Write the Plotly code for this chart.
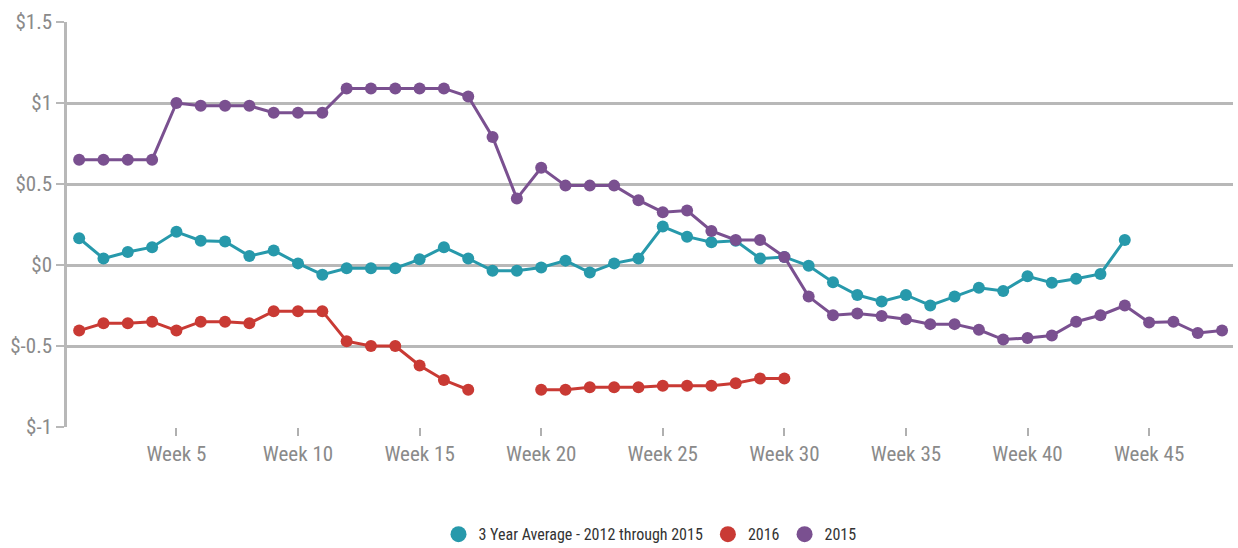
import plotly.graph_objects as go

weeks = list(range(1, 49))

avg_3yr = [0.165, 0.04, 0.08, 0.11, 0.205, 0.15, 0.145, 0.055, 0.09, 0.01,
           -0.06, -0.02, -0.02, -0.02, 0.035, 0.11, 0.04, -0.035, -0.035, -0.015,
           0.027, -0.047, 0.01, 0.04, 0.237, 0.175, 0.14, 0.15, 0.04, 0.05,
           -0.005, -0.107, -0.185, -0.225, -0.185, -0.25, -0.195, -0.14, -0.16, -0.07,
           -0.11, -0.085, -0.055, 0.155]

y2016 = [-0.405, -0.36, -0.36, -0.35, -0.405, -0.35, -0.35, -0.36, -0.285, -0.285,
         -0.285, -0.47, -0.5, -0.5, -0.62, -0.71, -0.77, None, None, -0.77,
         -0.77, -0.755, -0.755, -0.755, -0.745, -0.745, -0.745, -0.73, -0.70, -0.70]

y2015 = [0.65, 0.65, 0.65, 0.65, 1.0, 0.983, 0.983, 0.983, 0.94, 0.94,
         0.94, 1.09, 1.09, 1.09, 1.09, 1.09, 1.04, 0.79, 0.41, 0.60,
         0.49, 0.49, 0.49, 0.40, 0.326, 0.336, 0.21, 0.155, 0.155, 0.05,
         -0.195, -0.31, -0.30, -0.315, -0.335, -0.365, -0.365, -0.40, -0.46, -0.45,
         -0.435, -0.35, -0.31, -0.25, -0.355, -0.35, -0.42, -0.405]

series = [
    ("3 Year Average - 2012 through 2015", avg_3yr, "#2799ab"),
    ("2016", y2016, "#c93a34"),
    ("2015", y2015, "#7a5090"),
]

tick_weeks = [5, 10, 15, 20, 25, 30, 35, 40, 45]
tick_labels = ["Week %d" % w for w in tick_weeks]
y_ticks = [-1, -0.5, 0, 0.5, 1, 1.5]
y_labels = ["$-1", "$-0.5", "$0", "$0.5", "$1", "$1.5"]

fig = go.Figure()
for name, vals, color in series:
    fig.add_trace(go.Scatter(
        x=weeks[:len(vals)], y=vals, mode="lines+markers", name=name,
        line=dict(color=color, width=3),
        marker=dict(color=color, size=12),
        connectgaps=False, showlegend=False,
    ))
for name, vals, color in series:
    fig.add_trace(go.Scatter(
        x=[None], y=[None], mode="markers", name=name,
        marker=dict(color=color, size=17),
        showlegend=True,
    ))

font_family = "Liberation Sans Narrow, Roboto Condensed, Liberation Sans, sans-serif"

fig.update_layout(
    width=1238, height=548,
    margin=dict(l=67, r=5, t=22, b=121, autoexpand=False),
    paper_bgcolor="white", plot_bgcolor="white",
    font=dict(family=font_family, color="#8a8a8a", size=20),
    legend=dict(orientation="h", x=0.5, xanchor="center",
                yref="container", y=0.025, yanchor="middle",
                font=dict(size=16, color="#333333"), itemwidth=30,
                tracegroupgap=0),
    xaxis=dict(
        range=[0.5, 48.45], tickmode="array", tickvals=tick_weeks, ticktext=tick_labels,
        showgrid=False, zeroline=False, ticks="outside", ticklen=8, tickwidth=2,
        tickcolor="#b0b0b0", showline=False, automargin=False,
        tickfont=dict(size=21, color="#8a8a8a"),
    ),
    yaxis=dict(
        range=[-1, 1.5], tickmode="array", tickvals=y_ticks, ticktext=y_labels,
        showgrid=True, gridcolor="#b8b8b8", gridwidth=2.5, zeroline=False,
        showline=True, linecolor="#b8b8b8", linewidth=2.5, automargin=False,
        ticks="outside", ticklen=8, tickwidth=2, tickcolor="#b8b8b8",
        tickfont=dict(size=21, color="#8a8a8a"),
    ),
)

fig.write_html(
    "out.html",
    config={"displayModeBar": False},
    post_script="document.body.style.margin='0';document.body.style.overflow='hidden';",
)
